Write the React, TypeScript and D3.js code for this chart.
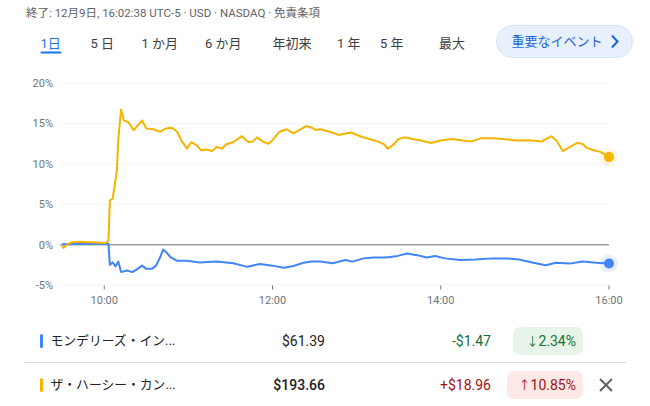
import React from "react";
import * as d3 from "d3";

// ---- data ----
const hersheyMinutes = [0, 1, 4, 7, 13, 20, 27, 31, 33, 34, 36, 39, 40, 42, 44, 47, 51, 54, 57, 60, 65, 70, 74, 78, 82, 85, 89, 92, 96, 99, 103, 107, 110, 114, 117, 122, 128, 133, 136, 139, 143, 147, 150, 155, 160, 165, 169, 174, 178, 181, 184, 191, 197, 206, 213, 219, 225, 230, 232, 235, 240, 244, 250, 256, 263, 270, 278, 286, 292, 299, 307, 314, 324, 333, 342, 349, 353, 357, 362, 367, 371, 374, 379, 384, 390];
const hersheyPct = [-0.15, -0.4, 0.1, 0.3, 0.35, 0.3, 0.25, 0.2, 0.5, 5.5, 5.7, 9.2, 13.0, 16.75, 15.4, 15.2, 14.2, 14.8, 15.4, 14.4, 14.3, 14.0, 14.4, 14.5, 14.0, 12.9, 11.9, 12.7, 12.3, 11.7, 11.8, 11.6, 12.1, 11.9, 12.45, 12.7, 13.45, 12.7, 12.8, 13.3, 12.8, 12.5, 12.95, 14.0, 14.3, 13.8, 14.2, 14.7, 14.5, 14.2, 14.3, 14.0, 13.6, 13.9, 13.4, 13.1, 12.8, 12.4, 11.9, 12.2, 13.1, 13.3, 13.1, 12.9, 12.6, 12.9, 13.1, 12.9, 12.8, 13.2, 13.2, 13.1, 12.9, 12.95, 12.8, 13.45, 12.8, 11.6, 12.1, 12.6, 12.5, 12.0, 11.7, 11.5, 10.85];

const mondelezMinutes = [0, 10, 20, 30, 33, 34, 36, 38, 40, 42, 46, 50, 53, 57, 60, 64, 67, 70, 72, 74, 77, 82, 89, 98, 110, 122, 132, 141, 150, 158, 165, 172, 178, 184, 193, 202, 207, 215, 222, 231, 238, 246, 253, 260, 266, 273, 284, 295, 307, 317, 326, 336, 345, 352, 362, 371, 381, 390];
const mondelezPct = [0.05, 0.1, 0.15, 0.1, 0.1, -2.5, -2.2, -2.7, -2.1, -3.4, -3.2, -3.4, -3.1, -2.6, -3.0, -3.0, -2.6, -1.5, -0.6, -0.9, -1.5, -2.0, -2.0, -2.2, -2.1, -2.3, -2.75, -2.4, -2.6, -2.85, -2.65, -2.25, -2.1, -2.1, -2.3, -1.9, -2.1, -1.7, -1.6, -1.6, -1.45, -1.1, -1.3, -1.6, -1.4, -1.7, -1.9, -1.85, -1.7, -1.7, -1.85, -2.25, -2.55, -2.25, -2.35, -2.1, -2.25, -2.34];

const yTicks = [-5, 0, 5, 10, 15, 20];
const xTickMinutes = [30, 150, 270, 390];
const xTickLabels = ["10:00", "12:00", "14:00", "16:00"];

const tabLabels = ["1日", "5 日", "1 か月", "6 か月", "年初来", "1 年", "5 年", "最大"];
const headerText = "終了: 12月9日, 16:02:38 UTC-5 · USD · NASDAQ · 免責条項";
const eventButtonText = "重要なイベント";

const stockNames = ["モンデリーズ・イン...", "ザ・ハーシー・カン..."];
const stockPrices = ["$61.39", "$193.66"];
const stockChanges = ["-$1.47", "+$18.96"];
const stockPctChanges = ["2.34%", "10.85%"];
const stockUp = [false, true];

// ---- layout ----
const W = 650;
const H = 406;
const tabX = [40.5, 90.5, 141.5, 205, 272.5, 337, 380, 439];
const FONT = "Roboto, 'Noto Sans CJK JP', Arial, sans-serif";

export default function App() {
  const x = d3.scaleLinear().domain([0, 390]).range([62.2, 609]);
  const y = d3.scaleLinear().domain([-5, 20]).range([285, 83.3]);

  const line = d3
    .line<[number, number]>()
    .x((d) => x(d[0]))
    .y((d) => y(d[1]))
    .curve(d3.curveLinear);

  const hershey: [number, number][] = hersheyMinutes.map((m, i) => [m, hersheyPct[i]]);
  const mondelez: [number, number][] = mondelezMinutes.map((m, i) => [m, mondelezPct[i]]);

  const yellow = "#f4b400";
  const blue = "#4285f4";
  const colors = [blue, yellow];

  const rowY = [341, 385];

  return (
    <svg
      width={W}
      height={H}
      style={{ position: "absolute", left: 0, top: 0, background: "#fff" }}
      fontFamily={FONT}
    >
      <rect width={W} height={H} fill="#fff" />
      {/* header */}
      <text x={26} y={17} fontSize={11.5} fill="#5f6368">
        {headerText}
      </text>

      {/* tabs */}
      {tabLabels.map((t, i) => (
        <text
          key={t}
          x={tabX[i]}
          y={47.5}
          fontSize={13}
          fill={i === 0 ? "#1a73e8" : "#3c4043"}
        >
          {t}
        </text>
      ))}
      <rect x={40.5} y={51.5} width={21} height={2} fill="#1a73e8" rx={1} />

      {/* event button */}
      <rect x={496.5} y={25.5} width={136} height={32} rx={16} fill="#e8f0fe" stroke="#d2e3fc" />
      <text x={511.5} y={46} fontSize={13} fill="#1967d2">
        {eventButtonText}
      </text>
      <path d="M612,35.5 L617.5,41.5 L612,47.5" fill="none" stroke="#1967d2" strokeWidth={2} />

      {/* grid */}
      {yTicks.map((t) => (
        <g key={t}>
          {t !== 0 && (
            <line x1={60} x2={609} y1={y(t)} y2={y(t)} stroke="#f1f3f4" strokeWidth={1} />
          )}
          <text
            x={53}
            y={y(t)}
            dy="0.35em"
            textAnchor="end"
            fontSize={11}
            fill="#70757a"
          >
            {`${t}%`}
          </text>
        </g>
      ))}
      <line x1={60} x2={609} y1={y(0)} y2={y(0)} stroke="#9aa0a6" strokeWidth={1.5} />

      {/* x axis */}
      {xTickMinutes.map((m, i) => (
        <g key={m}>
          <line x1={x(m)} x2={x(m)} y1={285.5} y2={289.5} stroke="#70757a" strokeWidth={1} />
          <text x={x(m)} y={304} textAnchor="middle" fontSize={11} fill="#70757a">
            {xTickLabels[i]}
          </text>
        </g>
      ))}

      {/* series */}
      <path d={line(mondelez) || ""} fill="none" stroke={blue} strokeWidth={2} strokeLinejoin="round" />
      <path d={line(hershey) || ""} fill="none" stroke={yellow} strokeWidth={2} strokeLinejoin="round" />

      {/* end dots */}
      {[mondelez, hershey].map((s, i) => {
        const last = s[s.length - 1];
        return (
          <g key={i}>
            <circle cx={x(last[0])} cy={y(last[1])} r={9} fill={colors[i]} opacity={0.12} />
            <circle cx={x(last[0])} cy={y(last[1])} r={5} fill={colors[i]} />
          </g>
        );
      })}

      {/* legend table */}
      <line x1={25} x2={626} y1={362.5} y2={362.5} stroke="#dadce0" strokeWidth={1} />
      {stockNames.map((name, i) => {
        const cy = rowY[i];
        const up = stockUp[i];
        const fg = up ? "#a50e0e" : "#137333";
        const bg = up ? "#fce8e6" : "#e6f4ea";
        const badgeW = up ? 76 : 70;
        return (
          <g key={name}>
            <rect x={40} y={cy - 7} width={3} height={14} rx={1.5} fill={colors[i]} />
            <text x={50.5} y={cy} dy="0.35em" fontSize={12.8} fill="#202124">
              {name}
            </text>
            <text
              x={325}
              y={cy}
              dy="0.35em"
              textAnchor="end"
              fontSize={14}
              fill="#202124"
              fontWeight={i === 1 ? 500 : 400}
            >
              {stockPrices[i]}
            </text>
            <text x={491} y={cy} dy="0.35em" textAnchor="end" fontSize={14} fill={fg}>
              {stockChanges[i]}
            </text>
            <rect x={583 - badgeW} y={cy - 14} width={badgeW} height={28} rx={7} fill={bg} />
            <text x={576} y={cy} dy="0.35em" textAnchor="end" fontSize={14} fill={fg}>
              <tspan fontSize={12}>{up ? "↑" : "↓"}</tspan>
              {stockPctChanges[i]}
            </text>
          </g>
        );
      })}
      <path d="M600,379 L612,391 M612,379 L600,391" stroke="#5f6368" strokeWidth={2} />
    </svg>
  );
}
